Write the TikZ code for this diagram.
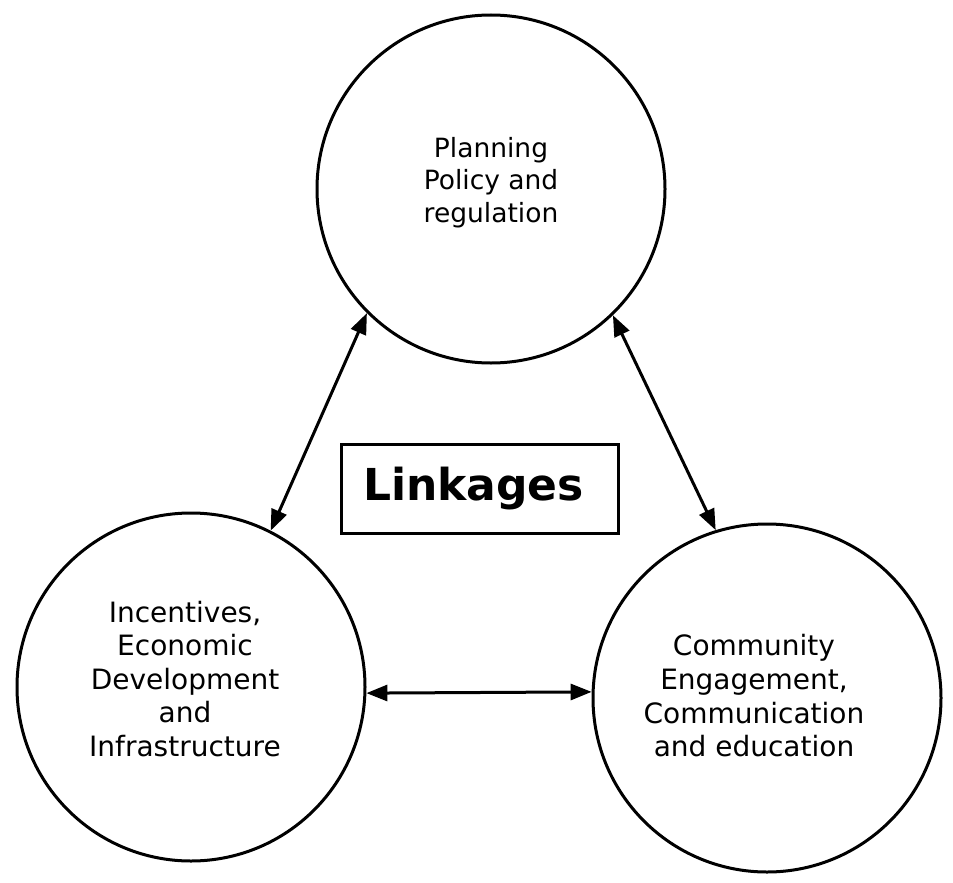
\documentclass[tikz,border=0pt]{standalone}
\usepackage{fontspec}
\setmainfont{DejaVu Sans}
\usetikzlibrary{arrows.meta}
\begin{document}
\begin{tikzpicture}[x=1pt,y=-1pt,
  area/.style={draw, circle, line width=3pt, minimum size=348pt, inner sep=0pt},
  areatext/.style={align=center, inner sep=0pt},
  link/.style={line width=3pt, {Triangle[length=21pt,width=16pt]}-{Triangle[length=21pt,width=16pt]}},
  linkbox/.style={draw, line width=3pt, minimum width=277pt, minimum height=89pt, inner sep=0pt,
    font=\fontsize{44}{50}\selectfont\bfseries}]
\useasboundingbox (0,0) rectangle (953,883);
\fill[white] (0,0) rectangle (953,883);

\node[area] (top) at (491,189) {};
\node[area] (left) at (191,687) {};
\node[area] (right) at (767,698) {};

\node[areatext, font=\fontsize{26.5}{32.5}\selectfont] (ttop) at (491,182.5)
  {Planning\\Policy and\\regulation};
\node[areatext, font=\fontsize{28}{33.5}\selectfont] (tleft) at (185,679)
  {Incentives,\\Economic\\Development\\and\\Infrastructure};
\node[areatext, font=\fontsize{28}{33.7}\selectfont] (tright) at (754,696)
  {Community\\Engagement,\\Communication\\and education};

\node[linkbox] (linkages) at (479.5,488.5) {\hspace{-12pt}Linkages};

\draw[link] (top.225.7) -- (left.63);
\draw[link] (top.314.5) -- (right.107);
\draw[link] (left.-2) -- (right.178.4);
\end{tikzpicture}
\end{document}
